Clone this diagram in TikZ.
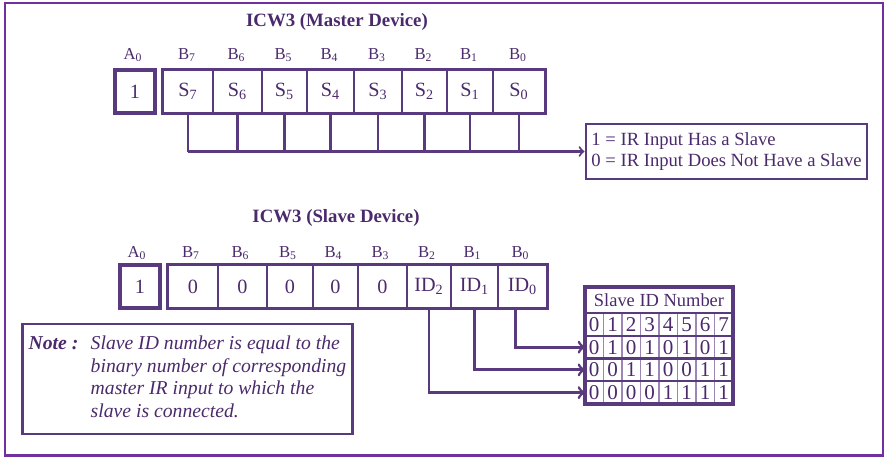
\documentclass[tikz,border=0pt]{standalone}
\usepackage{fontspec}
\setmainfont{Liberation Serif}
\usepackage{tikz}
\usetikzlibrary{calc,arrows}
\definecolor{framepurple}{HTML}{7030A0}
\definecolor{boxpurple}{HTML}{5A3A7E}
\definecolor{textpurple}{HTML}{4B2A6C}
\definecolor{gridpurple}{HTML}{9C86B6}
\tikzset{
  cell/.style={draw=boxpurple, line width=1.1pt, minimum height=43*0.02cm, inner sep=0pt,
    text=textpurple, font=\fontsize{11.5}{12}\selectfont},
  bitlabel/.style={text=textpurple, font=\fontsize{9.5}{11}\selectfont, inner sep=0pt},
  heading/.style={text=textpurple, font=\fontsize{10.7}{12}\selectfont\bfseries},
  wire/.style={draw=boxpurple, line width=1.2pt},
  idarrow/.style={draw=boxpurple, line width=1.6pt, -to},
  tabcell/.style={minimum width=18.5*0.02cm, minimum height=22.75*0.02cm, inner sep=0pt,
    outer sep=0pt, text=textpurple, font=\fontsize{12}{12}\selectfont},
}

\begin{document}
\begin{tikzpicture}[x=0.02cm, y=-0.02cm]
    \useasboundingbox (0,0) rectangle (887,461);
    \draw[framepurple, line width=1.2pt] (5,3) rectangle (883,455.5);

    % master
    \node[heading] (mtitle) at (337,22) {ICW3 (Master Device)};
    \node[bitlabel] (mal) at (133,55) {A\textsubscript{0}};
    \node[cell, line width=1.9pt, minimum width=40*0.02cm] (ma) at (135,91.5) {1};
    \foreach \lx/\rx/\bit in {163/213/7,213/262/6,262/307/5,307/354/4,354/402/3,402/447/2,447/493/1,493/545/0}
    {
        \node[cell, minimum width={(\rx-\lx)*0.02cm}] (m\bit) at ({(\lx+\rx)/2},91.5) {S\textsubscript{\bit}};
        \node[bitlabel] (mb\bit) at ({(\lx+\rx)/2-1},55) {B\textsubscript{\bit}};
    }
    \draw[boxpurple, line width=1.7pt] (m7.north west) rectangle (m0.south east);

    \node[draw=boxpurple, line width=1.2pt, minimum width=281*0.02cm, minimum height=55*0.02cm,
        align=left, text=textpurple, font=\fontsize{10.6}{12}\selectfont] (lg) at (726.5,151.5)
        {1 = IR Input Has a Slave\\0 = IR Input Does Not Have a Slave};
    \foreach \bit in {7,...,0}
    \draw[wire] (m\bit.south) -- (m\bit.south |- lg.west);
    \draw[wire,-to] (m7.south |- lg.west) -- (lg.west);

    % slave
    \node[heading] (stitle) at (336,218) {ICW3 (Slave Device)};
    \node[bitlabel] (sal) at (137,253) {A\textsubscript{0}};
    \node[cell, line width=1.9pt, minimum width=40*0.02cm] (sa) at (140,286.5) {1};
    \foreach \lx/\rx/\bit in {168/218/7,218/267/6,267/313/5,313/358/4,358/407/3,407/451/2,451/498/1,498/547/0}
    {
        \node[cell, minimum width={(\rx-\lx)*0.02cm}] (s\bit) at ({(\lx+\rx)/2},286.5)
            {\ifnum\bit<3 ID\textsubscript{\bit}\else 0\fi};
        \node[bitlabel] (sb\bit) at ({(\lx+\rx)/2-2},253) {B\textsubscript{\bit}};
    }
    \draw[boxpurple, line width=1.7pt] (s7.north west) rectangle (s0.south east);

    % slave ID table
    \node[text=textpurple, font=\fontsize{10.5}{12}\selectfont, minimum width=148*0.02cm,
        minimum height=26*0.02cm, inner sep=0pt, outer sep=0pt] (tabhead) at (659,300) {Slave ID Number};
    \foreach \bits [count=\row from 0] in {{0,1,2,3,4,5,6,7},{0,1,0,1,0,1,0,1},{0,0,1,1,0,0,1,1},{0,0,0,0,1,1,1,1}}
    \foreach \v [count=\col from 0] in \bits
    \node[tabcell] (t-\row-\col) at ({594.25+18.5*\col},{324.375+22.75*\row}) {\v};
    \foreach \col in {1,...,7}
    \draw[gridpurple, line width=0.7pt] (t-0-\col.north west) -- (t-3-\col.south west);
    \foreach \row in {0,1,2}
    \draw[boxpurple, line width=1.2pt] (t-\row-0.south west) -- (t-\row-7.south east);
    \draw[boxpurple, line width=1.2pt] (t-0-0.north west) -- (t-0-7.north east);
    \draw[boxpurple, line width=1.8pt] (tabhead.north west) rectangle (t-3-7.south east);

    \draw[idarrow] ([xshift=-7*0.02cm]s0.south) |- (t-1-0.west);
    \draw[idarrow] (s1.south) |- (t-2-0.west);
    \draw[idarrow] (s2.south) |- (t-3-0.west);

    % note
    \node[draw=boxpurple, line width=1.6pt, minimum width=329*0.02cm, minimum height=110*0.02cm,
        text=textpurple, font=\fontsize{11.2}{13}\selectfont\itshape] (note) at (187.5,379)
        {\begin{tabular}{@{}l@{\hspace{7pt}}l@{}}
            \textbf{Note :} & Slave ID number is equal to the\\
            & binary number of corresponding\\
            & master IR input to which the\\
            & slave is connected.
        \end{tabular}};
\end{tikzpicture}
\end{document}
